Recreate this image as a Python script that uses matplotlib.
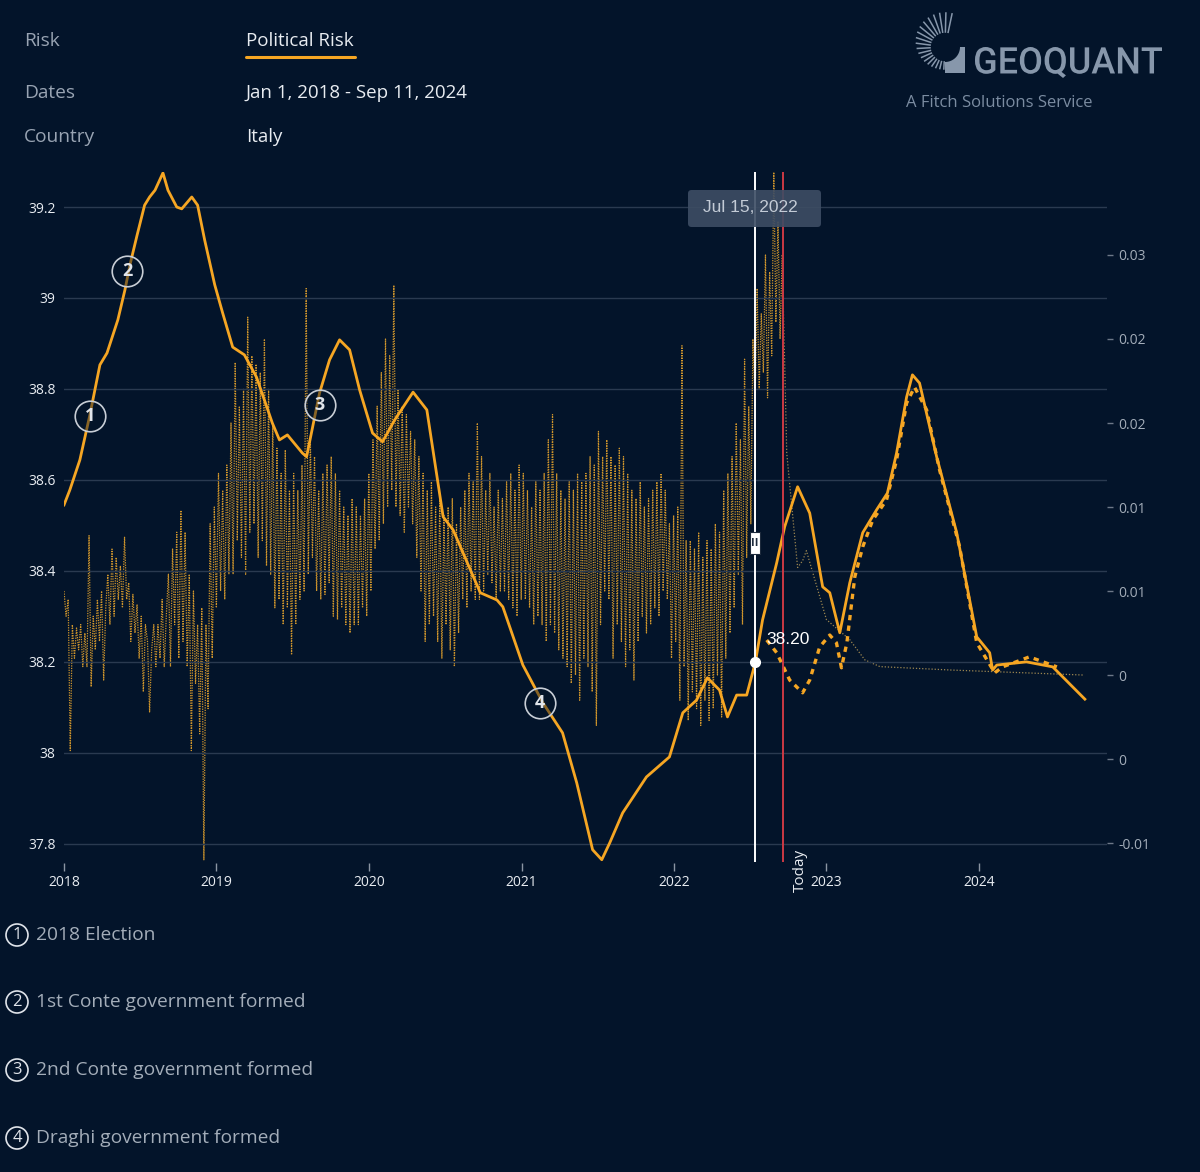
import numpy as np
import pandas as pd
import matplotlib
matplotlib.use('Agg')
import matplotlib.pyplot as plt
from matplotlib.patches import Circle, Rectangle, FancyBboxPatch, PathPatch, Polygon
from matplotlib.textpath import TextPath
from matplotlib.font_manager import FontProperties
from matplotlib.transforms import Affine2D, IdentityTransform

# ---- data ----
risk_dates = ['2018-01-01', '2018-01-15', '2018-02-08', '2018-03-04', '2018-03-28', '2018-04-14',
              '2018-05-10', '2018-05-27', '2018-06-08', '2018-06-25', '2018-07-13', '2018-07-25',
              '2018-08-07', '2018-08-26', '2018-09-07', '2018-09-28', '2018-10-10', '2018-11-03',
              '2018-11-17', '2018-12-04', '2018-12-28', '2019-01-16', '2019-02-09', '2019-03-09',
              '2019-04-07', '2019-05-15', '2019-06-01', '2019-06-20', '2019-07-26', '2019-08-05',
              '2019-09-05', '2019-09-29', '2019-10-23', '2019-11-16', '2019-12-10', '2020-01-10',
              '2020-02-03', '2020-03-03', '2020-04-16', '2020-05-19', '2020-06-27', '2020-07-21',
              '2020-09-24', '2020-11-03', '2020-11-17', '2021-01-04', '2021-02-21', '2021-04-09',
              '2021-05-13', '2021-06-20', '2021-07-12', '2021-07-31', '2021-08-31', '2021-10-27',
              '2021-12-21', '2022-01-22', '2022-02-24', '2022-03-22', '2022-04-20', '2022-05-09',
              '2022-05-31', '2022-06-24', '2022-07-15', '2022-08-01', '2022-09-04', '2022-09-23',
              '2022-10-24', '2022-11-22', '2022-12-23', '2023-01-09', '2023-02-02', '2023-02-26',
              '2023-03-29', '2023-05-01', '2023-05-27', '2023-06-18', '2023-07-12', '2023-07-26',
              '2023-08-12', '2023-09-22', '2023-11-09', '2023-12-27', '2024-01-27', '2024-02-03',
              '2024-02-13', '2024-04-24', '2024-06-26', '2024-09-11']
risk_values = [38.545, 38.578, 38.644, 38.743, 38.853, 38.879, 38.952, 39.018, 39.073, 39.138,
               39.204, 39.222, 39.237, 39.275, 39.237, 39.200, 39.196, 39.222, 39.204, 39.127,
               39.029, 38.967, 38.892, 38.875, 38.826, 38.725, 38.688, 38.699, 38.659, 38.651,
               38.791, 38.864, 38.908, 38.886, 38.798, 38.703, 38.684, 38.732, 38.793, 38.754,
               38.519, 38.490, 38.352, 38.336, 38.321, 38.193, 38.110, 38.044, 37.934, 37.787,
               37.765, 37.802, 37.868, 37.947, 37.991, 38.088, 38.116, 38.165, 38.138, 38.079,
               38.127, 38.127, 38.200, 38.292, 38.418, 38.497, 38.585, 38.527, 38.365, 38.352,
               38.264, 38.374, 38.484, 38.534, 38.571, 38.659, 38.782, 38.831, 38.813, 38.651,
               38.484, 38.255, 38.220, 38.182, 38.193, 38.200, 38.189, 38.118]

fcst_dates = ['2022-08-11', '2022-09-04', '2022-10-05', '2022-11-05', '2022-11-22', '2022-12-16',
              '2023-01-09', '2023-01-25', '2023-02-06', '2023-02-19', '2023-03-10', '2023-03-29',
              '2023-04-22', '2023-05-25', '2023-06-18', '2023-07-12', '2023-07-31', '2023-08-29',
              '2023-09-29', '2023-11-16', '2023-12-27', '2024-02-08', '2024-02-27', '2024-05-01',
              '2024-07-06']
fcst_values = [38.248, 38.220, 38.160, 38.132, 38.160, 38.233, 38.259, 38.242, 38.187, 38.242,
               38.387, 38.453, 38.512, 38.556, 38.644, 38.769, 38.804, 38.754, 38.622, 38.453,
               38.242, 38.176, 38.189, 38.211, 38.189]

# daily change (right axis), one reading every 5 days up to "today"
change_dates = pd.date_range('2018-01-01', periods=345, freq='5D')
change_values = [
    0.0050, 0.0035, 0.0045, -0.0045, 0.0030, 0.0010, 0.0028, 0.0015, 0.0030, 0.0005,
    0.0025, 0.0005, 0.0083, -0.0007, 0.0035, 0.0015, 0.0045, 0.0020, 0.0050, -0.0003,
    0.0040, 0.0060, 0.0030, 0.0075, 0.0035, 0.0070, 0.0045, 0.0065, 0.0040, 0.0082,
    0.0045, 0.0055, 0.0020, 0.0048, 0.0025, 0.0042, 0.0010, 0.0035, -0.0010, 0.0030,
    0.0020, -0.0022, 0.0015, 0.0030, 0.0005, 0.0030, 0.0010, 0.0045, 0.0005, 0.0035,
    0.0060, 0.0005, 0.0075, 0.0030, 0.0085, 0.0010, 0.0098, 0.0020, 0.0085, 0.0005,
    0.0060, -0.0045, 0.0050, -0.0005, 0.0030, -0.0035, 0.0040, -0.0110, 0.0030, -0.0020,
    0.0090, 0.0010, 0.0100, 0.0040, 0.0120, 0.0050, 0.0110, 0.0045, 0.0125, 0.0060,
    0.0150, 0.0060, 0.0186, 0.0080, 0.0160, 0.0070, 0.0170, 0.0060, 0.0213, 0.0085,
    0.0190, 0.0090, 0.0185, 0.0070, 0.0180, 0.0080, 0.0200, 0.0065, 0.0170, 0.0060,
    0.0150, 0.0040, 0.0135, 0.0045, 0.0120, 0.0030, 0.0134, 0.0040, 0.0110, 0.0012,
    0.0120, 0.0030, 0.0110, 0.0045, 0.0125, 0.0050, 0.0230, 0.0060, 0.0140, 0.0070,
    0.0130, 0.0050, 0.0110, 0.0045, 0.0120, 0.0048, 0.0125, 0.0055, 0.0130, 0.0035,
    0.0120, 0.0033, 0.0110, 0.0040, 0.0100, 0.0030, 0.0095, 0.0025, 0.0105, 0.0030,
    0.0100, 0.0030, 0.0095, 0.0040, 0.0105, 0.0035, 0.0120, 0.0050, 0.0140, 0.0075,
    0.0160, 0.0080, 0.0180, 0.0090, 0.0200, 0.0100, 0.0190, 0.0110, 0.0232, 0.0100,
    0.0170, 0.0095, 0.0160, 0.0085, 0.0155, 0.0100, 0.0145, 0.0090, 0.0140, 0.0070,
    0.0130, 0.0050, 0.0120, 0.0020, 0.0110, 0.0030, 0.0115, 0.0035, 0.0100, 0.0020,
    0.0105, 0.0010, 0.0095, 0.0030, 0.0100, 0.0015, 0.0105, 0.0005, 0.0090, 0.0025,
    0.0100, 0.0045, 0.0110, 0.0040, 0.0120, 0.0050, 0.0115, 0.0045, 0.0150, 0.0045,
    0.0130, 0.0050, 0.0110, 0.0060, 0.0120, 0.0055, 0.0100, 0.0045, 0.0110, 0.0050,
    0.0105, 0.0050, 0.0115, 0.0045, 0.0120, 0.0040, 0.0110, 0.0035, 0.0125, 0.0045,
    0.0120, 0.0045, 0.0110, 0.0040, 0.0100, 0.0030, 0.0115, 0.0035, 0.0110, 0.0030,
    0.0120, 0.0020, 0.0140, 0.0030, 0.0155, 0.0025, 0.0120, 0.0015, 0.0110, 0.0010,
    0.0105, 0.0005, 0.0115, -0.0005, 0.0110, 0.0000, 0.0120, -0.0015, 0.0115, 0.0010,
    0.0120, 0.0005, 0.0130, -0.0010, 0.0125, -0.0030, 0.0145, 0.0030, 0.0130, 0.0050,
    0.0140, 0.0045, 0.0130, 0.0010, 0.0125, 0.0030, 0.0135, 0.0020, 0.0130, 0.0005,
    0.0120, 0.0015, 0.0110, -0.0003, 0.0105, 0.0020, 0.0115, 0.0035, 0.0100, 0.0025,
    0.0105, 0.0030, 0.0110, 0.0040, 0.0115, 0.0035, 0.0120, 0.0050, 0.0110, 0.0045,
    0.0090, 0.0010, 0.0095, 0.0020, 0.0100, -0.0015, 0.0196, 0.0005, 0.0080, -0.0027,
    0.0080, -0.0010, 0.0075, -0.0020, 0.0085, -0.0030, 0.0070, -0.0015, 0.0080, -0.0027,
    0.0075, -0.0020, 0.0090, 0.0000, 0.0085, -0.0025, 0.0110, 0.0010, 0.0120, 0.0025,
    0.0130, 0.0040, 0.0150, 0.0060, 0.0140, 0.0030, 0.0188, 0.0070, 0.0160, 0.0090,
    0.0200, 0.0160, 0.0230, 0.0170, 0.0215, 0.0180, 0.0250, 0.0165, 0.0240, 0.0190,
    0.0300, 0.0210, 0.0270, 0.0200, 0.0250]
tail_dates = ['2022-09-17', '2022-09-28', '2022-10-24', '2022-11-05', '2022-11-14', '2023-01-01',
              '2023-02-26', '2023-04-03', '2023-05-09', '2023-10-23', '2024-09-06']
tail_values = [0.0250, 0.0132, 0.0064, 0.0068, 0.0074, 0.0033, 0.0021, 0.0009, 0.0005, 0.0003, 0.0000]

events = ['2018 Election', '1st Conte government formed', '2nd Conte government formed',
          'Draghi government formed']
event_dates = ['2018-03-04', '2018-06-01', '2019-09-05', '2021-02-13']
event_values = [38.740, 39.060, 38.765, 38.110]

left_ticks = [37.8, 38.0, 38.2, 38.4, 38.6, 38.8, 39.0, 39.2]
left_labels = ['37.8', '38', '38.2', '38.4', '38.6', '38.8', '39', '39.2']
right_ticks = [-0.01, -0.005, 0, 0.005, 0.01, 0.015, 0.02, 0.025]
right_labels = ['-0.01', '0', '0', '0.01', '0.01', '0.02', '0.02', '0.03']
years = [2018, 2019, 2020, 2021, 2022, 2023, 2024]

hover_date = '2022-07-15'
hover_value = 38.20
today = '2022-09-18'

# ---- style ----
BG = '#03142a'
ORANGE = '#f6a623'
DOT = '#cf952c'
GRID = '#2a3a50'
GRAY = '#a3adb9'
WHITE = '#e8ecf1'
plt.rcParams['font.family'] = ['Open Sans', 'DejaVu Sans']

W, H = 1200, 1172


def fx(px):
    return px / W


def fy(py):
    return 1 - py / H


fig = plt.figure(figsize=(12, 11.72), dpi=100)
fig.patch.set_facecolor(BG)

ax = fig.add_axes([fx(64), fy(862), fx(1107) - fx(64), fy(172) - fy(862)])
ax2 = ax.twinx()
ax.set_zorder(ax2.get_zorder() + 1)
ax.patch.set_visible(False)
ax2.set_facecolor(BG)

ax2.plot(change_dates, change_values, color=DOT, lw=0.9, ls=(0, (1, 1)))
ax2.plot(pd.to_datetime(tail_dates), tail_values, color='#9c8650', lw=0.9, ls=(0, (1, 1.5)))

ax.plot(pd.to_datetime(risk_dates), risk_values, color=ORANGE, lw=2.0,
        solid_joinstyle='round', zorder=4)
ax.plot(pd.to_datetime(fcst_dates), fcst_values, color=ORANGE, lw=2.4, ls=(0, (1.6, 1.6)), zorder=4)

ax.set_xlim(pd.Timestamp('2018-01-01'), pd.Timestamp('2024-11-03'))
ax.set_ylim(37.76, 39.277)
ax2.set_ylim(-0.01113, 0.02994)

for a in (ax, ax2):
    for s in a.spines.values():
        s.set_visible(False)

ax.set_yticks(left_ticks)
ax.set_yticklabels(left_labels)
ax.tick_params(axis='y', length=0, pad=6, labelsize=10, labelcolor=WHITE)
ax.yaxis.grid(True, color=GRID, lw=1)
ax.set_axisbelow(True)

ax.set_xticks([pd.Timestamp(f'{y}-01-01') for y in years])
ax.set_xticklabels([str(y) for y in years])
ax.spines['bottom'].set_position(('outward', 1))
ax.tick_params(axis='x', length=6, width=1, color='#8a94a2', pad=2, labelsize=10, labelcolor=WHITE)

ax2.set_yticks(right_ticks)
ax2.set_yticklabels(right_labels)
ax2.tick_params(axis='y', length=4, width=1, color='#6d7888', pad=4, labelsize=10, labelcolor=GRAY)

# hover line, today line
hd = pd.Timestamp(hover_date)
ax.axvline(hd, color='white', lw=1.4, zorder=5)
ax.axvline(pd.Timestamp(today), color='#cc3a44', lw=1.4, zorder=5)
ax.plot([hd], [hover_value], 'o', color='white', ms=7, zorder=6)
ax.text(hd + pd.Timedelta(days=25), hover_value + 0.05, f'{hover_value:.2f}', color='white',
        fontsize=12.5, family='Liberation Sans', va='center', ha='left', zorder=6)

# tooltip
fig.add_artist(FancyBboxPatch((fx(688), fy(227)), fx(821) - fx(688), fy(190) - fy(227),
                              boxstyle='round,pad=0,rounding_size=0.003', transform=fig.transFigure,
                              facecolor='#3d4d64', edgecolor='none', alpha=0.9, zorder=10))
fig.text(fx(750), fy(208), 'Jul 15, 2022', color='#c3cbd6', fontsize=12.5, family='Liberation Sans',
         ha='center', va='center', zorder=11)

# drag handle
fig.add_artist(Rectangle((fx(750), fy(554)), 10 / W, 22 / H, transform=fig.transFigure,
                         facecolor='white', edgecolor='#1d2a3c', lw=0.8, zorder=12))
fig.text(fx(755), fy(543), 'II', color='#1d2a3c', fontsize=8, ha='center', va='center',
         weight='bold', zorder=13)

fig.text(fx(800), fy(870), 'Today', rotation=90, color=WHITE, fontsize=11, ha='center', va='center')

# event markers
for i, (d, v) in enumerate(zip(event_dates, event_values)):
    ax.plot([pd.Timestamp(d)], [v], 'o', ms=22, mfc=(0.01, 0.08, 0.16, 0.45), mec='#c8ced6',
            mew=1.2, zorder=7)
    ax.text(pd.Timestamp(d), v, str(i + 1), color='#e0e4ea', fontsize=13, weight='bold',
            ha='center', va='center', zorder=8)

# header
rows = [('Risk', 'Political Risk', 41), ('Dates', 'Jan 1, 2018 - Sep 11, 2024', 93),
        ('Country', 'Italy', 137)]
for lab, val, py in rows:
    fig.text(fx(24), fy(py), lab, color='#99a4b3', fontsize=13.8, va='center', ha='left')
    fig.text(fx(246), fy(py), val, color=WHITE, fontsize=13.5, va='center', ha='left')
fig.add_artist(plt.Line2D([fx(246), fx(355)], [fy(57), fy(57)], color=ORANGE, lw=2.2,
                          solid_capstyle='round', transform=fig.transFigure))

# logo
LOGO = '#8797ab'
cx, cy = 945, H - 47
for ang in np.arange(78, 272, 10.5):
    r_in, r_out = 15, 28 + 6 * np.sin(np.radians(ang))
    t = np.radians(ang)
    fig.add_artist(plt.Line2D([cx + r_in * np.cos(t), cx + r_out * np.cos(t)],
                              [cy + r_in * np.sin(t), cy + r_out * np.sin(t)],
                              color=LOGO, lw=1.1, transform=IdentityTransform()))
arc = [(cx + 15 * np.cos(t), cy + 15 * np.sin(t)) for t in np.radians(np.linspace(-90, 0, 20))]
blk = [(cx + 15, cy), (cx + 20, cy), (cx + 20, cy - 26), (cx, cy - 26), (cx, cy - 15)] + arc
fig.add_artist(Polygon(blk, closed=True, facecolor=LOGO, edgecolor='none',
                       transform=IdentityTransform()))

tp = TextPath((0, 0), 'GEOQUANT', size=40, prop=FontProperties(family='Roboto', weight='medium'))
bb = tp.get_extents()
sx = (1162 - 975) / bb.width
sy = (78 - 47) / bb.height
tr = Affine2D().translate(-bb.x0, -bb.y0).scale(sx, sy).translate(975, H - 78)
fig.add_artist(PathPatch(tr.transform_path(tp), facecolor=LOGO, edgecolor='none',
                         transform=IdentityTransform()))
fig.text(fx(906), fy(103), 'A Fitch Solutions Service', color='#7b8ca1', fontsize=12,
         ha='left', va='center')

# event legend at the bottom
for i, (name, py) in enumerate(zip(events, [935, 1002, 1070, 1138])):
    fig.add_artist(Circle((17, H - py), 11, facecolor='none', edgecolor='#e0e4ea', lw=1.2,
                          transform=IdentityTransform()))
    fig.text(fx(17), fy(py), str(i + 1), color='#e0e4ea', fontsize=12, ha='center', va='center')
    fig.text(fx(36), fy(py), name, color=GRAY, fontsize=13.8, ha='left', va='center')

fig.savefig('out.png', dpi=100, facecolor=BG)
